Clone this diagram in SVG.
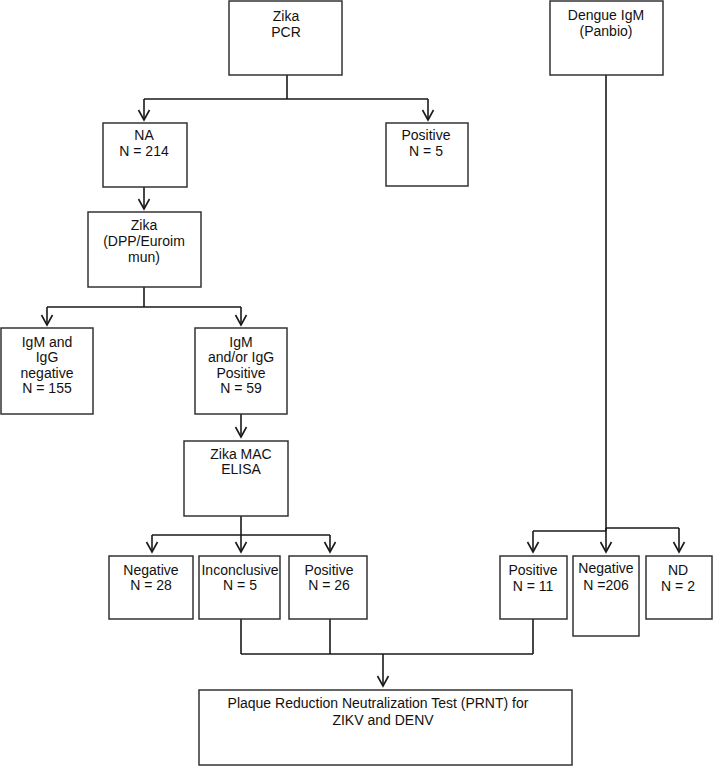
<svg xmlns="http://www.w3.org/2000/svg" width="713" height="766" viewBox="0 0 713 766">
<defs>
<style>
.box rect{fill:#fff;stroke:#333;stroke-width:1.5}
text{font-family:"Liberation Sans",Arial,sans-serif;font-size:14px;fill:#111;text-anchor:middle}
.c path{fill:none;stroke:#1a1a1a;stroke-width:1.6}
</style>
<marker id="v" markerUnits="userSpaceOnUse" markerWidth="14" markerHeight="14" viewBox="-12 -7 14 14" refX="0" refY="0" orient="auto">
<path d="M-10,-5.5 L0,0 L-10,5.5" fill="none" stroke="#1a1a1a" stroke-width="1.6"/>
</marker>
</defs>
<rect width="713" height="766" fill="#fff"/>
<g class="c" id="connectors">
<path d="M287,75 V99 M144,99 H428"/>
<path d="M144,99 V120" marker-end="url(#v)"/>
<path d="M428,99 V120" marker-end="url(#v)"/>
<path d="M144,187 V209" marker-end="url(#v)"/>
<path d="M144,287 V307 M47,307 H241"/>
<path d="M47,307 V325" marker-end="url(#v)"/>
<path d="M241,307 V325" marker-end="url(#v)"/>
<path d="M241,414 V437" marker-end="url(#v)"/>
<path d="M241,516 V535 M152,535 H330"/>
<path d="M152,535 V552" marker-end="url(#v)"/>
<path d="M241,535 V552" marker-end="url(#v)"/>
<path d="M330,535 V552" marker-end="url(#v)"/>
<path d="M606,75 V531 M533,531 H606 M606,528 H679"/>
<path d="M533,531 V552" marker-end="url(#v)"/>
<path d="M606,528 V552" marker-end="url(#v)"/>
<path d="M679,528 V552" marker-end="url(#v)"/>
<path d="M241,619 V654 M330,619 V654 M533,619 V654 M241,654 H533"/>
<path d="M383,654 V686" marker-end="url(#v)"/>
</g>
<g class="box" id="zika-pcr"><rect x="229" y="1" width="113" height="74"/><text x="286" y="21">Zika</text><text x="286" y="37">PCR</text></g>
<g class="box" id="dengue-igm"><rect x="550" y="1" width="113" height="74"/><text x="606" y="20">Dengue IgM</text><text x="606" y="36">(Panbio)</text></g>
<g class="box" id="na"><rect x="103" y="123" width="84" height="64"/><text x="144" y="140">NA</text><text x="144" y="156">N = 214</text></g>
<g class="box" id="pcr-positive"><rect x="386" y="123" width="82" height="63"/><text x="426" y="140">Positive</text><text x="426" y="156">N = 5</text></g>
<g class="box" id="zika-dpp"><rect x="88" y="212" width="113" height="75"/><text x="144" y="230">Zika</text><text x="144" y="246">(DPP/Euroim</text><text x="144" y="262">mun)</text></g>
<g class="box" id="igm-igg-negative"><rect x="1" y="328" width="92" height="86"/><text x="47" y="347">IgM and</text><text x="47" y="362">IgG</text><text x="47" y="378">negative</text><text x="47" y="393">N = 155</text></g>
<g class="box" id="igm-igg-positive"><rect x="195" y="328" width="92" height="86"/><text x="241" y="347">IgM</text><text x="241" y="362">and/or IgG</text><text x="241" y="378">Positive</text><text x="241" y="393">N = 59</text></g>
<g class="box" id="zika-mac-elisa"><rect x="184" y="441" width="104" height="75"/><text x="241" y="459">Zika MAC</text><text x="241" y="474">ELISA</text></g>
<g class="box" id="mac-negative"><rect x="109" y="556" width="84" height="63"/><text x="151" y="575">Negative</text><text x="151" y="590">N = 28</text></g>
<g class="box" id="mac-inconclusive"><rect x="199" y="556" width="81" height="63"/><text x="240" y="575">Inconclusive</text><text x="240" y="590">N = 5</text></g>
<g class="box" id="mac-positive"><rect x="289" y="556" width="78" height="63"/><text x="329" y="575">Positive</text><text x="329" y="590">N = 26</text></g>
<g class="box" id="dengue-positive"><rect x="500" y="556" width="67" height="63"/><text x="533" y="575">Positive</text><text x="533" y="591">N = 11</text></g>
<g class="box" id="dengue-negative"><rect x="573" y="556" width="66" height="80"/><text x="606" y="573">Negative</text><text x="606" y="590">N =206</text></g>
<g class="box" id="dengue-nd"><rect x="646" y="556" width="66" height="63"/><text x="678" y="575">ND</text><text x="678" y="591">N = 2</text></g>
<g class="box" id="prnt"><rect x="199" y="690" width="373" height="75"/><text x="378" y="708">Plaque Reduction Neutralization Test (PRNT) for</text><text x="383" y="725">ZIKV and DENV</text></g>
</svg>
